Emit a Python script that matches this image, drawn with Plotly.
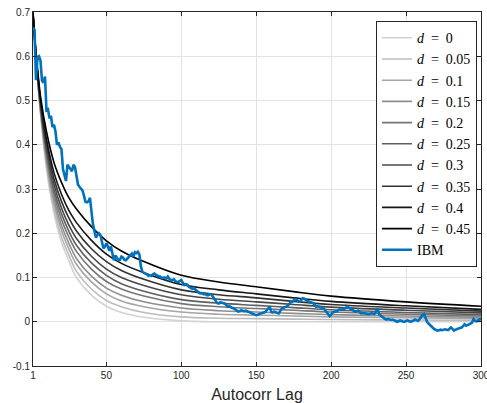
import plotly.graph_objects as go

# Model ACF curves, read at these lags
LAGS = [1, 3, 6, 10, 15, 20, 25, 30, 40, 50, 60, 75, 100, 125, 150, 175, 200, 250, 300]
D_LABELS = ["0", "0.05", "0.1", "0.15", "0.2", "0.25", "0.3", "0.35", "0.4", "0.45"]
ACF_D000 = [0.690, 0.590, 0.470, 0.345, 0.245, 0.180, 0.137, 0.100, 0.060, 0.035, 0.021, 0.010, 0.002, 0.000, 0.000, 0.000, 0.000, 0.000, 0.000]
ACF_D005 = [0.691, 0.592, 0.474, 0.353, 0.255, 0.192, 0.150, 0.114, 0.074, 0.048, 0.034, 0.021, 0.011, 0.008, 0.007, 0.006, 0.005, 0.004, 0.003]
ACF_D010 = [0.692, 0.594, 0.478, 0.361, 0.267, 0.206, 0.164, 0.130, 0.090, 0.063, 0.047, 0.034, 0.022, 0.017, 0.015, 0.013, 0.011, 0.009, 0.007]
ACF_D015 = [0.693, 0.596, 0.481, 0.369, 0.277, 0.218, 0.177, 0.143, 0.103, 0.076, 0.060, 0.045, 0.031, 0.025, 0.022, 0.019, 0.016, 0.013, 0.010]
ACF_D020 = [0.694, 0.598, 0.485, 0.377, 0.289, 0.231, 0.191, 0.159, 0.119, 0.091, 0.074, 0.058, 0.041, 0.034, 0.030, 0.026, 0.022, 0.017, 0.013]
ACF_D025 = [0.695, 0.599, 0.489, 0.385, 0.299, 0.244, 0.204, 0.173, 0.133, 0.105, 0.086, 0.069, 0.050, 0.042, 0.037, 0.032, 0.027, 0.021, 0.016]
ACF_D030 = [0.696, 0.601, 0.493, 0.393, 0.311, 0.257, 0.218, 0.188, 0.148, 0.119, 0.100, 0.082, 0.061, 0.051, 0.045, 0.039, 0.033, 0.026, 0.020]
ACF_D035 = [0.697, 0.604, 0.497, 0.403, 0.323, 0.272, 0.234, 0.205, 0.165, 0.136, 0.116, 0.096, 0.072, 0.061, 0.054, 0.046, 0.039, 0.031, 0.024]
ACF_D040 = [0.698, 0.606, 0.502, 0.413, 0.337, 0.288, 0.251, 0.224, 0.184, 0.153, 0.132, 0.111, 0.084, 0.072, 0.063, 0.054, 0.046, 0.036, 0.028]
ACF_D045 = [0.700, 0.610, 0.510, 0.430, 0.360, 0.315, 0.280, 0.255, 0.215, 0.183, 0.160, 0.136, 0.105, 0.090, 0.079, 0.068, 0.058, 0.045, 0.035]
MODEL_CURVES = [ACF_D000, ACF_D005, ACF_D010, ACF_D015, ACF_D020,
                ACF_D025, ACF_D030, ACF_D035, ACF_D040, ACF_D045]
GRAY_LEVELS = [210, 188, 165, 142, 118, 95, 72, 50, 22, 0]

# IBM sample autocorrelation, lags 1..300
IBM_LAGS = list(range(1, 301))
IBM_ACF = [
    0.665, 0.660, 0.546, 0.598, 0.600, 0.590, 0.545, 0.540, 0.554, 0.478,
    0.480, 0.460, 0.465, 0.440, 0.445, 0.430, 0.400, 0.405, 0.395, 0.390,
    0.345, 0.330, 0.318, 0.355, 0.350, 0.345, 0.340, 0.355, 0.350, 0.330,
    0.310, 0.305, 0.300, 0.297, 0.285, 0.271, 0.270, 0.272, 0.280, 0.245,
    0.220, 0.205, 0.190, 0.196, 0.200, 0.196, 0.180, 0.166, 0.170, 0.177,
    0.170, 0.160, 0.170, 0.150, 0.139, 0.150, 0.145, 0.139, 0.140, 0.147,
    0.145, 0.140, 0.139, 0.143, 0.145, 0.150, 0.154, 0.147, 0.157, 0.155,
    0.158, 0.152, 0.125, 0.113, 0.110, 0.109, 0.107, 0.104, 0.105, 0.104,
    0.107, 0.109, 0.106, 0.104, 0.103, 0.102, 0.098, 0.100, 0.100, 0.097,
    0.102, 0.097, 0.094, 0.094, 0.096, 0.092, 0.090, 0.090, 0.092, 0.094,
    0.088, 0.083, 0.085, 0.084, 0.079, 0.077, 0.075, 0.077, 0.074, 0.070,
    0.066, 0.065, 0.064, 0.064, 0.062, 0.063, 0.060, 0.060, 0.062, 0.062,
    0.057, 0.053, 0.047, 0.042, 0.041, 0.044, 0.043, 0.042, 0.041, 0.038,
    0.034, 0.035, 0.032, 0.031, 0.030, 0.028, 0.025, 0.023, 0.024, 0.026,
    0.025, 0.024, 0.025, 0.024, 0.023, 0.021, 0.019, 0.018, 0.016, 0.015,
    0.016, 0.018, 0.019, 0.020, 0.021, 0.022, 0.026, 0.031, 0.034, 0.022,
    0.021, 0.023, 0.022, 0.020, 0.019, 0.024, 0.030, 0.031, 0.033, 0.034,
    0.036, 0.040, 0.044, 0.045, 0.048, 0.051, 0.050, 0.046, 0.045, 0.049,
    0.053, 0.052, 0.049, 0.047, 0.046, 0.045, 0.044, 0.042, 0.038, 0.034,
    0.035, 0.034, 0.032, 0.031, 0.030, 0.026, 0.022, 0.017, 0.013, 0.016,
    0.021, 0.022, 0.023, 0.024, 0.027, 0.028, 0.027, 0.028, 0.030, 0.032,
    0.034, 0.031, 0.028, 0.027, 0.025, 0.023, 0.024, 0.025, 0.022, 0.019,
    0.020, 0.019, 0.018, 0.017, 0.017, 0.018, 0.019, 0.018, 0.018, 0.024,
    0.030, 0.017, 0.014, 0.011, 0.009, 0.006, 0.005, 0.006, 0.005, 0.004,
    0.005, 0.003, 0.002, 0.000, 0.001, 0.003, 0.002, 0.000, 0.000, 0.002,
    0.003, 0.001, 0.000, 0.001, 0.004, 0.005, 0.003, 0.002, 0.006, 0.011,
    0.015, 0.017, 0.008, 0.000, -0.004, -0.008, -0.011, -0.014, -0.017, -0.018,
    -0.020, -0.019, -0.018, -0.019, -0.018, -0.017, -0.018, -0.019, -0.016, -0.013,
    -0.016, -0.020, -0.018, -0.016, -0.015, -0.014, -0.013, -0.010, -0.006, -0.009,
    -0.008, -0.006, -0.004, -0.002, 0.006, 0.002, 0.001, 0.004, 0.005, 0.006,
]

X_TICKS = [1, 50, 100, 150, 200, 250, 300]
Y_TICKS = [-0.1, 0, 0.1, 0.2, 0.3, 0.4, 0.5, 0.6, 0.7]
Y_TICK_TEXT = ["-0.1", "0", "0.1", "0.2", "0.3", "0.4", "0.5", "0.6", "0.7"]

fig = go.Figure()
for lbl, vals, g in zip(D_LABELS, MODEL_CURVES, GRAY_LEVELS):
    fig.add_trace(go.Scatter(
        x=LAGS, y=vals, mode="lines", line=dict(color=f"rgb({g},{g},{g})", width=1.6, shape="spline"),
        name=f"<i>d</i>\u2002=\u2002{lbl}"))
fig.add_trace(go.Scatter(x=IBM_LAGS, y=IBM_ACF, mode="lines",
                         line=dict(color="#0072BD", width=2.6), name="IBM"))

axis_common = dict(showline=True, linecolor="#262626", linewidth=1, mirror="ticks",
                   ticks="inside", ticklen=4, tickcolor="#262626", automargin=False,
                   showgrid=True, gridcolor="#e3e3e3", gridwidth=1, zeroline=False,
                   tickfont=dict(family="Liberation Sans, Arial", size=10, color="#262626"))

fig.update_layout(
    width=487, height=403,
    margin=dict(l=33, r=6, t=12, b=37),
    paper_bgcolor="white", plot_bgcolor="white",
    xaxis=dict(range=[1, 300], tickvals=X_TICKS, ticktext=[str(t) for t in X_TICKS],
               ticklabeloverflow="allow",
               title=dict(text="Autocorr Lag", font=dict(family="Liberation Sans, Arial", size=16, color="#262626"), standoff=9),
               **axis_common),
    yaxis=dict(range=[-0.1, 0.7], tickvals=Y_TICKS, ticktext=Y_TICK_TEXT, **axis_common),
    legend=dict(x=0.991, y=0.974, xanchor="right", yanchor="top",
                bgcolor="white", bordercolor="#262626", borderwidth=1,
                font=dict(family="Liberation Serif, DejaVu Serif", size=14, color="#000"),
                itemwidth=30, tracegroupgap=0),
    showlegend=True,
)
fig.write_html("out.html")
